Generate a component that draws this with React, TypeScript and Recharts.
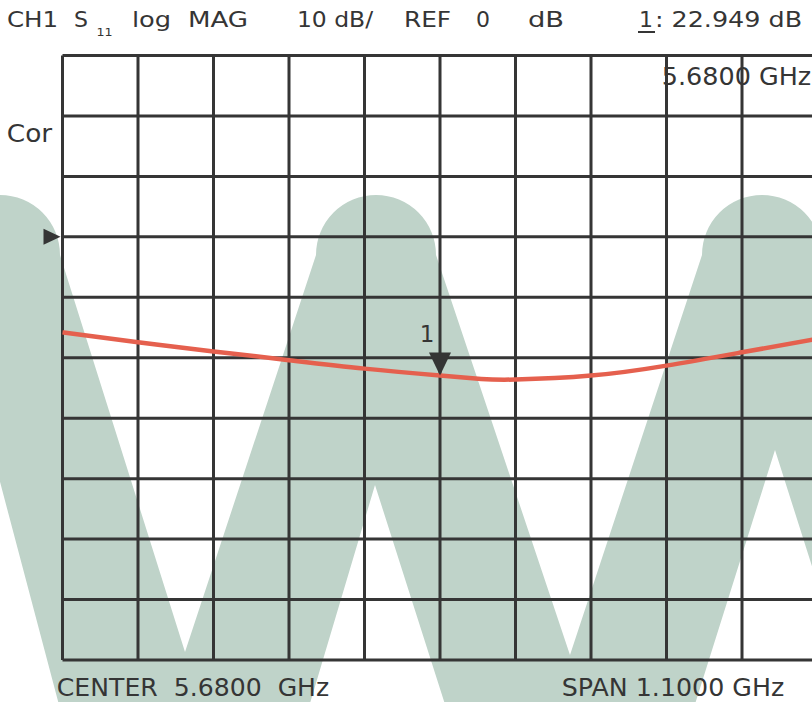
import { LineChart, Line, XAxis, YAxis, CartesianGrid, ReferenceDot } from 'recharts';

// S11 trace (GHz / dB)
const freqGHz = [5.13, 5.24, 5.35, 5.46, 5.57, 5.68, 5.74, 5.79, 5.9, 6.01, 6.12, 6.23];
const s11dB = [-15.8, -17.45, -18.95, -20.4, -21.8, -22.95, -23.5, -23.6, -22.95, -21.3, -19.1, -16.85];

// grid divisions: 10 x 10
const freqTicks = [5.13, 5.24, 5.35, 5.46, 5.57, 5.68, 5.79, 5.9, 6.01, 6.12, 6.23];
const dbTicks = [-70, -60, -50, -40, -30, -20, -10, 0, 10, 20, 30];

const marker = { freq: 5.68, value: -22.949 };
const refLevel = 0;

const data = freqGHz.map((f, i) => ({ f, db: s11dB[i] }));

const INK = '#353535';
const GRID = '#353535';
const TRACE = '#e5604e';
const FONT = '"DejaVu Sans", Verdana, sans-serif';

function MarkerShape(props: any) {
  const { cx, cy } = props;
  return <path d={`M${cx - 11},${cy - 23} L${cx + 11},${cy - 23} L${cx},${cy} Z`} fill={INK} />;
}

function RefArrow(props: any) {
  const { cx, cy } = props;
  const tip = cx - 2;
  return <path d={`M${tip - 17},${cy - 8} L${tip},${cy} L${tip - 17},${cy + 8} Z`} fill={INK} />;
}

// big faded "W" logo behind the graticule
function Watermark() {
  const d = [
    'M -60 255',
    'A 60 60 0 0 1 60 255',
    'L 185 652',
    'L 316 255',
    'A 60 60 0 0 1 436 255',
    'L 570 655',
    'L 702 255',
    'A 60 60 0 0 1 822 255',
    'L 900 500 L 900 720',
    'L 861 720 L 775 450 L 690 720',
    'L 450 720 L 375 485 L 305 720',
    'L 63 720 Z',
  ].join(' ');
  return (
    <svg width={812} height={702} style={{ position: 'absolute', left: 0, top: 0 }}>
      <path d={d} fill="#bfd3c9" />
    </svg>
  );
}

type T = { s: string; x: number; y: number; size: number; w?: number };

const texts: T[] = [
  { s: 'CH1', x: 8, y: 27, size: 22, w: 49 },
  { s: 'S', x: 75, y: 27, size: 22 },
  { s: '11', x: 97, y: 36, size: 11, w: 15 },
  { s: 'log', x: 133, y: 27, size: 22, w: 37 },
  { s: 'MAG', x: 189, y: 27, size: 22, w: 58 },
  { s: '10 dB/', x: 298, y: 27, size: 22, w: 74 },
  { s: 'REF', x: 405, y: 27, size: 22, w: 45 },
  { s: '0', x: 477, y: 27, size: 22 },
  { s: 'dB', x: 529, y: 27, size: 22, w: 34 },
  { s: '1', x: 640, y: 27, size: 22 },
  { s: ': 22.949 dB', x: 656, y: 27, size: 22, w: 145 },
  { s: 'Cor', x: 8, y: 142, size: 24, w: 43 },
  { s: '5.6800 GHz', x: 663, y: 85, size: 24, w: 147 },
  { s: 'CENTER  5.6800  GHz', x: 58, y: 696, size: 24, w: 270 },
  { s: 'SPAN 1.1000 GHz', x: 563, y: 696, size: 24, w: 220 },
  { s: '1', x: 421, y: 342, size: 23 },
];

function Labels() {
  return (
    <svg width={812} height={702} style={{ position: 'absolute', left: 0, top: 0, pointerEvents: 'none' }}>
      {texts.map((t, i) => (
        <text
          key={i}
          x={t.x - t.size * 0.05}
          y={t.y}
          fontSize={t.size}
          fontFamily={FONT}
          fill={INK}
          style={{ whiteSpace: 'pre' }}
          {...(t.w ? { textLength: t.w + t.size * 0.1, lengthAdjust: 'spacingAndGlyphs' } : {})}
        >
          {t.s}
        </text>
      ))}
      <line x1={638} x2={655} y1={32} y2={32} stroke={INK} strokeWidth={2} />
    </svg>
  );
}

export default function App() {
  return (
    <div
      style={{
        position: 'fixed',
        left: 0,
        top: 0,
        width: 812,
        height: 702,
        overflow: 'hidden',
        background: '#fff',
      }}
    >
      <Watermark />
      <div style={{ position: 'absolute', left: 0, top: 0 }}>
        <LineChart
          width={830}
          height={702}
          data={data}
          margin={{ top: 55.5, left: 62.5, right: 12.5, bottom: 42 }}
        >
          <XAxis dataKey="f" type="number" domain={[5.13, 6.23]} ticks={freqTicks} hide />
          <YAxis type="number" domain={[-70, 30]} ticks={dbTicks} hide />
          <CartesianGrid stroke={GRID} strokeWidth={3} />
          <Line
            type="natural"
            dataKey="db"
            stroke={TRACE}
            strokeWidth={4.5}
            dot={false}
            isAnimationActive={false}
          />
          <ReferenceDot x={5.13} y={refLevel} ifOverflow="visible" shape={RefArrow} />
          <ReferenceDot x={marker.freq} y={marker.value} ifOverflow="visible" shape={MarkerShape} />
        </LineChart>
      </div>
      <Labels />
    </div>
  );
}
